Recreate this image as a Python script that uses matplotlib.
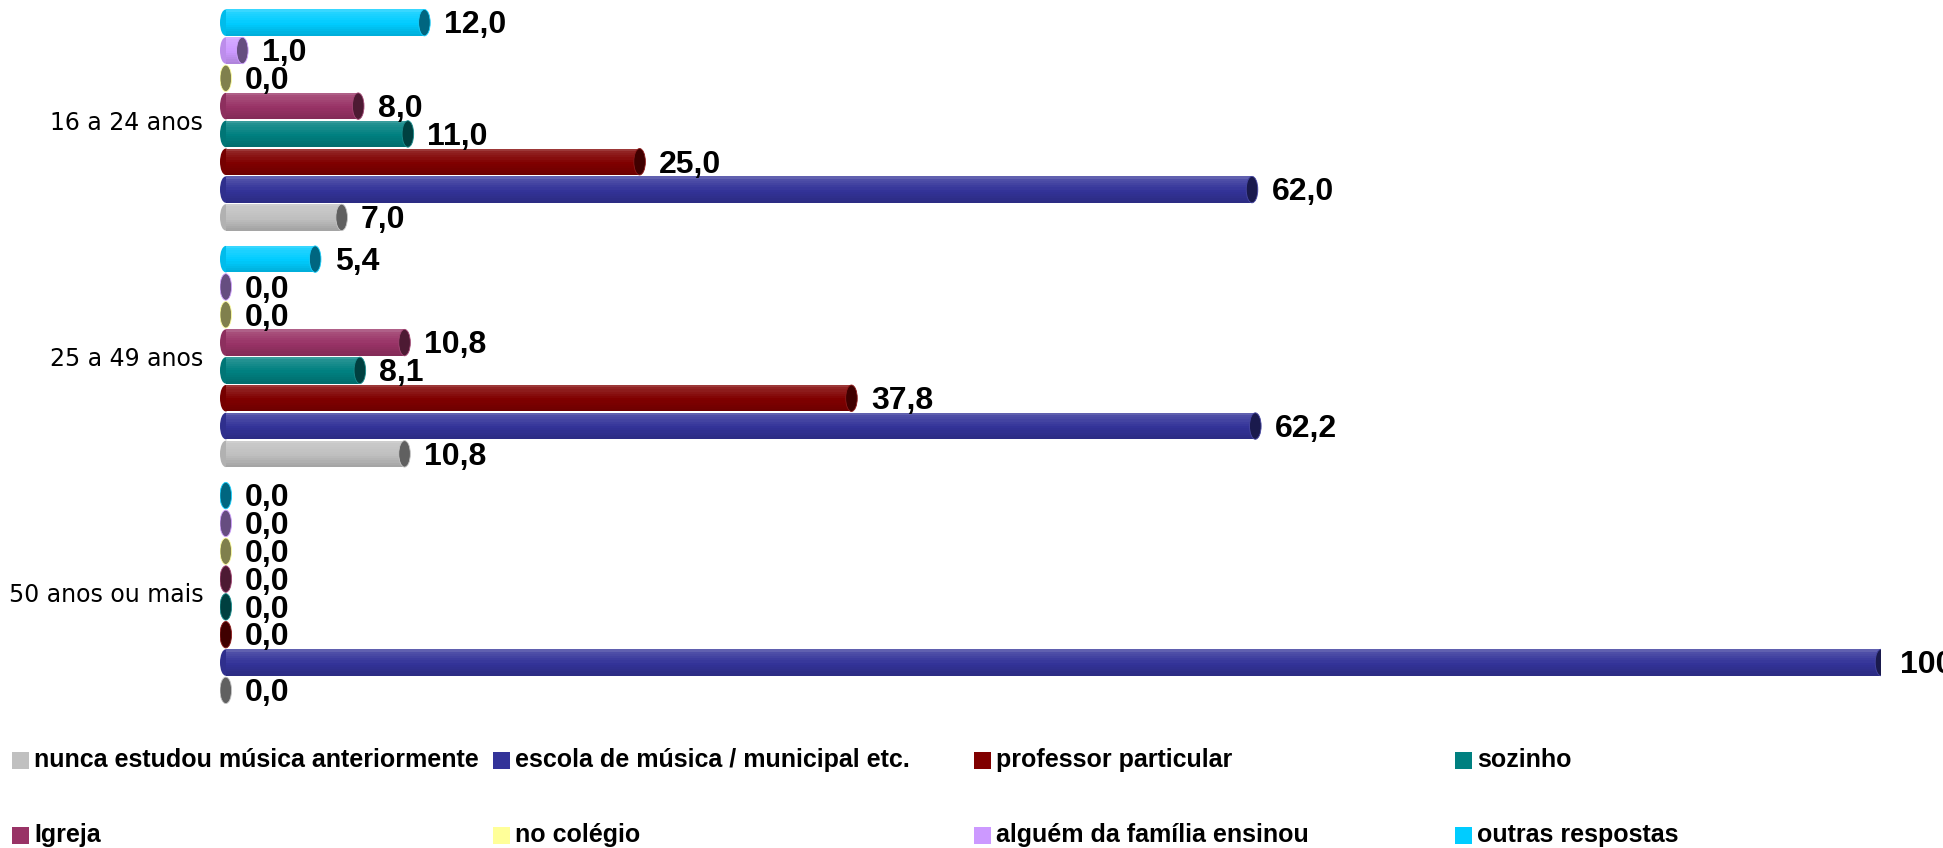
import numpy as np
import matplotlib
matplotlib.use('Agg')
import matplotlib.pyplot as plt
from matplotlib.patches import Ellipse, Rectangle
from matplotlib.colors import to_rgb

# ---------------- data ----------------
groups = ['50 anos ou mais', '25 a 49 anos', '16 a 24 anos']
series = ['nunca estudou música anteriormente',
          'escola de música / municipal etc.',
          'professor particular',
          'sozinho',
          'Igreja',
          'no colégio',
          'alguém da família ensinou',
          'outras respostas']
colors = ['#C0C0C0', '#333399', '#800000', '#008080',
          '#993366', '#FFFF99', '#CC99FF', '#00CCFF']
vals_50_mais = [0.0, 100.0, 0.0, 0.0, 0.0, 0.0, 0.0, 0.0]
vals_25_49 = [10.8, 62.2, 37.8, 8.1, 10.8, 0.0, 0.0, 5.4]
vals_16_24 = [7.0, 62.0, 25.0, 11.0, 8.0, 0.0, 1.0, 12.0]
values = [vals_50_mais, vals_25_49, vals_16_24]

# ---------------- figure ----------------
W, H = 1943, 848
fig = plt.figure(figsize=(W / 100, H / 100), dpi=100)
ax_left, ax_right = 220, 1881
ax_top, ax_bot = 1.8, 711.2
ax = fig.add_axes([ax_left / W, 1 - ax_bot / H,
                   (ax_right - ax_left) / W, (ax_bot - ax_top) / H])

group_pitch = 8.5
bar_h = 0.95
cap_w = 0.7
nstripe = 12


def shade(c, f):
    r = np.array(to_rgb(c))
    if f >= 0:
        return tuple(r + (1 - r) * f)
    return tuple(r * (1 + f))


def dark(c):
    return tuple(np.array(to_rgb(c)) * 0.5)


for g, gvals in enumerate(values):
    for j, v in enumerate(gvals):
        y = g * group_pitch + (j - 3.5)
        c = colors[j]
        if v > 0:
            # back (left) end of the cylinder
            ax.add_patch(Ellipse((0, y), cap_w, bar_h, facecolor=shade(c, -0.08),
                                 edgecolor='none', zorder=2))
            sh = bar_h / nstripe
            for k in range(nstripe):
                t = k / (nstripe - 1)  # 0 bottom -> 1 top
                f = -0.14 + 0.30 * t
                if k == nstripe - 1:
                    f = 0.22
                ax.barh(y - bar_h / 2 + sh * (k + 0.5), v, height=sh * 1.02, left=0,
                        color=shade(c, f), linewidth=0, zorder=3)
        ax.add_patch(Ellipse((v, y), cap_w, bar_h, facecolor=dark(c),
                             edgecolor=shade(c, 0.1), linewidth=0.6, zorder=4))
        ax.annotate(f'{v:.1f}'.replace('.', ','), (v, y), xytext=(14, -2),
                    textcoords='offset points', ha='left', va='center',
                    fontsize=23, fontweight='bold', family='Liberation Sans',
                    color='black', annotation_clip=False, zorder=5)

ax.set_xlim(-cap_w / 2, 100)
ax.set_ylim(-4.25, 2 * group_pitch + 4.25)
ax.set_yticks([g * group_pitch for g in range(len(groups))])
ax.set_yticklabels(groups, fontsize=17, family='DejaVu Sans')
ax.tick_params(axis='y', length=0, pad=12)
ax.set_xticks([])
for s in ax.spines.values():
    s.set_visible(False)

# ---------------- legend (Excel-like grid) ----------------
col_x0, col_pitch = 12, 481
row_y = [760, 835]
sq = 17
for i, (lab, c) in enumerate(zip(series, colors)):
    col, row = i % 4, i // 4
    x = col_x0 + col * col_pitch
    yc = row_y[row]
    fig.add_artist(Rectangle((x / W, 1 - (yc + sq / 2) / H), sq / W, sq / H,
                             transform=fig.transFigure, facecolor=c,
                             edgecolor='none'))
    fig.text((x + sq + 5) / W, 1 - yc / H, lab, ha='left', va='center',
             fontsize=18, fontweight='bold', family='Liberation Sans',
             color='black')

fig.savefig('out.png', dpi=100)
